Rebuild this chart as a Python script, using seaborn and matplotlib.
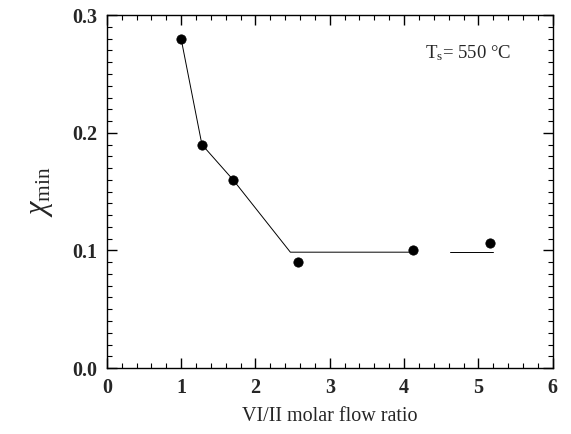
import matplotlib
matplotlib.use("Agg")
import matplotlib.pyplot as plt
import numpy as np
import seaborn as sns

sns.set_theme(style="ticks")
plt.rcParams["font.family"] = ["Liberation Serif", "DejaVu Serif"]
plt.rcParams["mathtext.fontset"] = "custom"
plt.rcParams["mathtext.rm"] = "Liberation Serif"
plt.rcParams["mathtext.it"] = "Liberation Serif:italic"

# measured points
flow_ratio = [1.0, 1.28, 1.7, 2.57, 4.12, 5.15]
chi_min = [0.28, 0.19, 0.16, 0.09, 0.10, 0.106]

# guide line (drawn by hand in the original, with a gap near x=4.4)
guide_x1 = [1.0, 1.28, 1.7, 2.47, 4.15]
guide_y1 = [0.28, 0.19, 0.16, 0.0985, 0.0985]
guide_x2 = [4.62, 5.2]
guide_y2 = [0.0985, 0.0985]

fig = plt.figure(figsize=(5.71, 4.34), dpi=100)
ax = fig.add_axes([0.187, 0.152, 0.781, 0.813])

sns.lineplot(x=guide_x1, y=guide_y1, ax=ax, color="black", lw=0.7, sort=False)
sns.lineplot(x=guide_x2, y=guide_y2, ax=ax, color="black", lw=0.7, sort=False)
sns.scatterplot(x=flow_ratio, y=chi_min, ax=ax, color="black", s=45, edgecolor="black", zorder=5)

ax.set_xlim(0, 6)
ax.set_ylim(0, 0.3)
ax.set_xticks(np.arange(0, 7, 1))
ax.set_yticks([0.0, 0.1, 0.2, 0.3])
ax.set_yticklabels(["0.0", "0.1", "0.2", "0.3"])
ax.set_xticks(np.arange(0, 6.01, 0.2), minor=True)
ax.set_yticks(np.arange(0, 0.301, 0.01), minor=True)
ax.tick_params(which="both", direction="in", top=True, right=True, color="black")
ax.tick_params(which="major", length=7, width=1, labelsize=14.5, pad=7)
ax.tick_params(which="minor", length=3.5, width=0.8)
for lab in ax.get_xticklabels() + ax.get_yticklabels():
    lab.set_fontweight("bold")
for sp in ax.spines.values():
    sp.set_color("black")
    sp.set_linewidth(1)

ax.set_xlabel("VI/II molar flow ratio", fontsize=14.5, labelpad=7)
ax.set_ylabel(r"$\chi_{\mathrm{min}}$", fontsize=22, labelpad=12)
ax.text(4.28, 0.268, r"T$_{\mathrm{s}}$= 550 °C", fontsize=13.5, va="center")

fig.savefig("out.png", dpi=100)
